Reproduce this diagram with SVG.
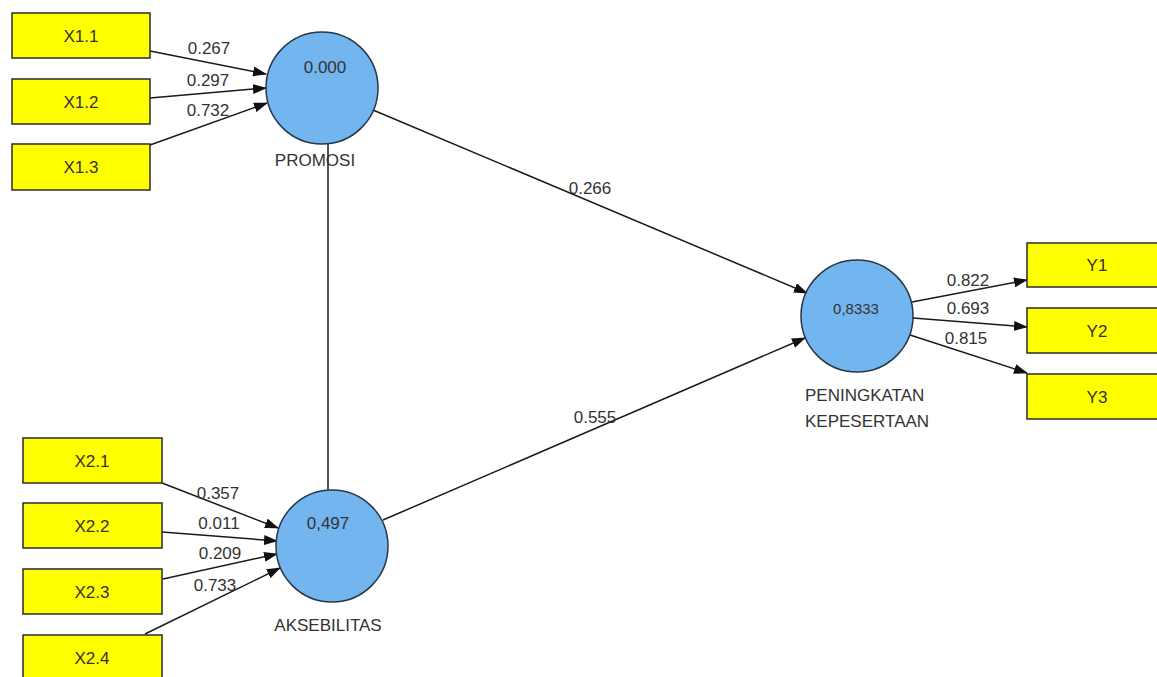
<svg xmlns="http://www.w3.org/2000/svg" width="1157" height="677" viewBox="0 0 1157 677">
<style>
.box{fill:#ffff00;stroke:#2a2a2a;stroke-width:1.5}
.lv{fill:#73b5ef;stroke:#25384a;stroke-width:1.5}
.t{font-family:"Liberation Sans",Arial,sans-serif;font-size:17px;fill:#333}
.c{text-anchor:middle}
.ln{stroke:#1a1a1a;stroke-width:1.5;fill:none}
.ar{marker-end:url(#ah)}
</style>
<defs>
<marker id="ah" markerUnits="userSpaceOnUse" markerWidth="14" markerHeight="10" refX="13" refY="5" orient="auto">
<path d="M0,0 L14,5 L0,10 Z" fill="#111"/>
</marker>
</defs>
<rect width="1157" height="677" fill="#ffffff"/>
<g id="connectors">
<line class="ln ar" x1="150" y1="51" x2="266" y2="74"/>
<line class="ln ar" x1="150" y1="98" x2="266" y2="88"/>
<line class="ln ar" x1="150" y1="145" x2="267" y2="103"/>
<line class="ln ar" x1="162" y1="483" x2="278" y2="528"/>
<line class="ln ar" x1="162" y1="532" x2="277" y2="541"/>
<line class="ln ar" x1="163" y1="579" x2="277" y2="554"/>
<line class="ln ar" x1="145" y1="634" x2="280" y2="568"/>
<line class="ln" x1="328" y1="143" x2="328" y2="490"/>
<line class="ln ar" x1="373" y1="110" x2="807" y2="293"/>
<line class="ln ar" x1="383" y1="520" x2="805" y2="338"/>
<line class="ln ar" x1="912" y1="302" x2="1027" y2="280"/>
<line class="ln ar" x1="913" y1="318" x2="1027" y2="327"/>
<line class="ln ar" x1="910" y1="335" x2="1027" y2="373"/>
<g class="t c">
<text x="209" y="54">0.267</text>
<text x="208" y="86">0.297</text>
<text x="208" y="116">0.732</text>
<text x="218" y="499">0.357</text>
<text x="219" y="529">0.011</text>
<text x="220" y="559">0.209</text>
<text x="215" y="591">0.733</text>
<text x="590" y="194">0.266</text>
<text x="595" y="423">0.555</text>
<text x="968" y="286">0.822</text>
<text x="968" y="314">0.693</text>
<text x="966" y="344">0.815</text>
</g>
</g>
<g id="X1.1"><rect class="box" x="12" y="13" width="138" height="45"/><text class="t c" x="81" y="42">X1.1</text></g>
<g id="X1.2"><rect class="box" x="12" y="79" width="138" height="45"/><text class="t c" x="81" y="108">X1.2</text></g>
<g id="X1.3"><rect class="box" x="12" y="144" width="138" height="46"/><text class="t c" x="81" y="173">X1.3</text></g>
<g id="X2.1"><rect class="box" x="23" y="438" width="139" height="45"/><text class="t c" x="92" y="467">X2.1</text></g>
<g id="X2.2"><rect class="box" x="23" y="503" width="139" height="45"/><text class="t c" x="92" y="532">X2.2</text></g>
<g id="X2.3"><rect class="box" x="23" y="569" width="139" height="45"/><text class="t c" x="92" y="598">X2.3</text></g>
<g id="X2.4"><rect class="box" x="23" y="635" width="139" height="45"/><text class="t c" x="92" y="664">X2.4</text></g>
<g id="Y1"><rect class="box" x="1027" y="243" width="140" height="44"/><text class="t c" x="1097" y="271">Y1</text></g>
<g id="Y2"><rect class="box" x="1027" y="308" width="140" height="45"/><text class="t c" x="1097" y="337">Y2</text></g>
<g id="Y3"><rect class="box" x="1027" y="374" width="140" height="45"/><text class="t c" x="1097" y="403">Y3</text></g>
<g id="PROMOSI"><circle class="lv" cx="322" cy="88" r="56"/><text class="t c" x="325" y="73">0.000</text><text class="t c" x="315" y="166">PROMOSI</text></g>
<g id="AKSEBILITAS"><circle class="lv" cx="332" cy="546" r="56"/><text class="t c" x="328" y="529">0,497</text><text class="t c" x="328" y="631">AKSEBILITAS</text></g>
<g id="PENINGKATAN"><circle class="lv" cx="857" cy="316" r="56"/><text class="t c" x="856" y="314" style="font-size:15px">0,8333</text><text class="t" x="805" y="401">PENINGKATAN</text><text class="t" x="805" y="427">KEPESERTAAN</text></g>
</svg>
